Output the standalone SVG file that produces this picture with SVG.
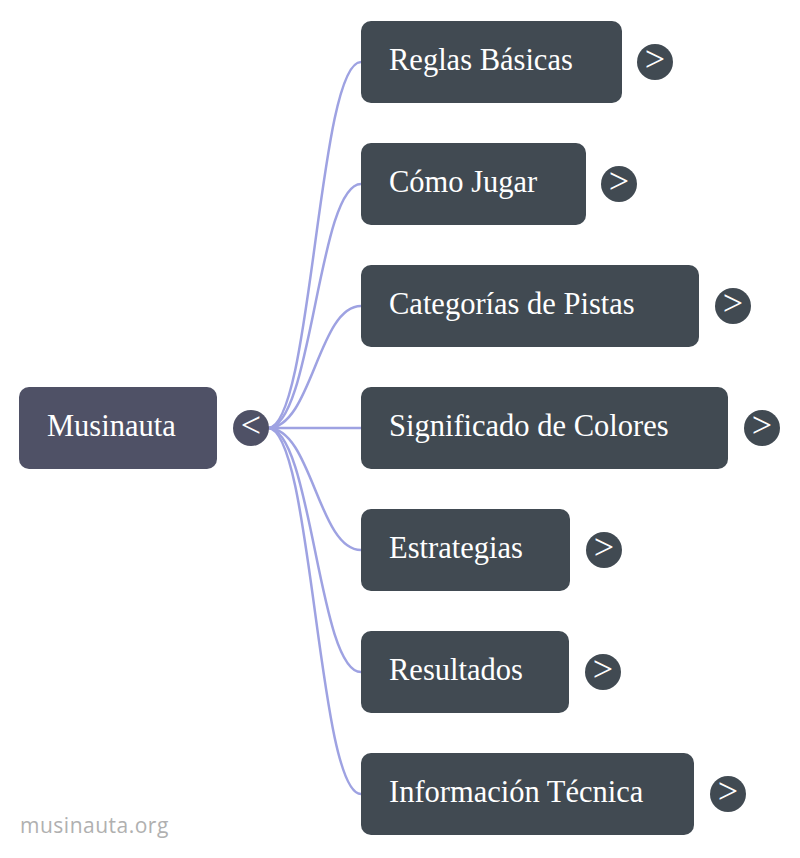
<svg xmlns="http://www.w3.org/2000/svg" width="800" height="858" viewBox="0 0 800 858">
<style>
.node{fill:#414a52}
.root{fill:#4f5166}
.lbl{font-family:"Liberation Serif","Times New Roman",serif;font-size:30.5px;fill:#ffffff}
.tog{font-family:"Liberation Serif","Times New Roman",serif;font-size:36px;fill:#ffffff;text-anchor:middle}
.link{fill:none;stroke:#9ea2e2;stroke-width:2.5}
.foot{font-family:"Open Sans","Liberation Sans",sans-serif;font-size:21px;letter-spacing:0.5px;fill:#b0b0b0}
</style>
<rect width="800" height="858" fill="#ffffff"/>
<g id="connectors">
<path class="link" d="M268,428 C312,428 318,62 361,62"/>
<path class="link" d="M268,428 C312,428 318,184 361,184"/>
<path class="link" d="M268,428 C312,428 318,306 361,306"/>
<path class="link" d="M268,428 L361,428"/>
<path class="link" d="M268,428 C312,428 318,550 361,550"/>
<path class="link" d="M268,428 C312,428 318,672 361,672"/>
<path class="link" d="M268,428 C312,428 318,794 361,794"/>
</g>
<g id="root">
<rect class="root" x="19" y="387" width="198" height="82" rx="10"/>
<text class="lbl" x="47" y="436">Musinauta</text>
<circle class="root" cx="251" cy="428" r="18"/>
<text class="tog" x="251" y="437">&lt;</text>
</g>
<g id="n1">
<rect class="node" x="361" y="21" width="261" height="82" rx="10"/>
<text class="lbl" x="389" y="70">Reglas Básicas</text>
<circle class="node" cx="655" cy="62" r="18"/>
<text class="tog" x="655" y="71">&gt;</text>
</g>
<g id="n2">
<rect class="node" x="361" y="143" width="225" height="82" rx="10"/>
<text class="lbl" x="389" y="192">Cómo Jugar</text>
<circle class="node" cx="619" cy="184" r="18"/>
<text class="tog" x="619" y="193">&gt;</text>
</g>
<g id="n3">
<rect class="node" x="361" y="265" width="338" height="82" rx="10"/>
<text class="lbl" x="389" y="314">Categorías de Pistas</text>
<circle class="node" cx="733" cy="306" r="18"/>
<text class="tog" x="733" y="315">&gt;</text>
</g>
<g id="n4">
<rect class="node" x="361" y="387" width="367" height="82" rx="10"/>
<text class="lbl" x="389" y="436">Significado de Colores</text>
<circle class="node" cx="762" cy="428" r="18"/>
<text class="tog" x="762" y="437">&gt;</text>
</g>
<g id="n5">
<rect class="node" x="361" y="509" width="209" height="82" rx="10"/>
<text class="lbl" x="389" y="558">Estrategias</text>
<circle class="node" cx="604" cy="550" r="18"/>
<text class="tog" x="604" y="559">&gt;</text>
</g>
<g id="n6">
<rect class="node" x="361" y="631" width="208" height="82" rx="10"/>
<text class="lbl" x="389" y="680">Resultados</text>
<circle class="node" cx="603" cy="672" r="18"/>
<text class="tog" x="603" y="681">&gt;</text>
</g>
<g id="n7">
<rect class="node" x="361" y="753" width="333" height="82" rx="10"/>
<text class="lbl" x="389" y="802">Información Técnica</text>
<circle class="node" cx="728" cy="794" r="18"/>
<text class="tog" x="728" y="803">&gt;</text>
</g>
<text class="foot" x="20" y="833">musinauta.org</text>
</svg>
